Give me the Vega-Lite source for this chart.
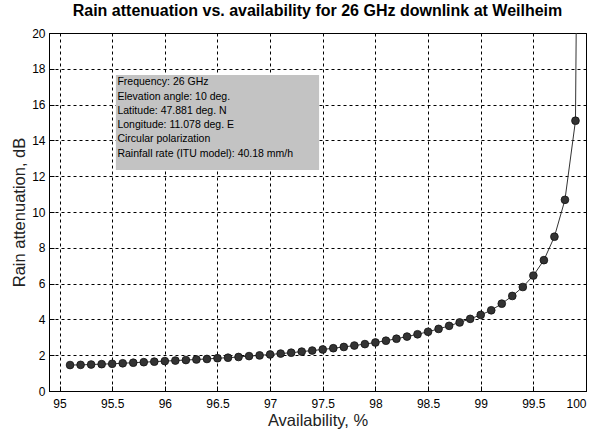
{
  "$schema": "https://vega.github.io/schema/vega-lite/v6.json",
  "width": 537,
  "height": 358,
  "autosize": {"type": "none"},
  "padding": {"left": 49, "top": 33, "right": 10, "bottom": 40},
  "background": "white",
  "title": {
    "text": "Rain attenuation vs. availability for 26 GHz downlink at Weilheim",
    "font": "Liberation Sans",
    "fontSize": 16,
    "fontWeight": "bold",
    "color": "black",
    "anchor": "middle",
    "offset": 8
  },
  "config": {
    "view": {"stroke": "black", "strokeWidth": 1},
    "font": "Liberation Sans",
    "axis": {
      "labelFont": "Liberation Sans",
      "titleFont": "Liberation Sans",
      "labelFontSize": 12,
      "titleFontSize": 16.5,
      "titleFontWeight": "normal",
      "labelColor": "black",
      "titleColor": "#222222",
      "domainColor": "black",
      "tickColor": "black",
      "tickSize": -5,
      "labelOverlap": false,
      "grid": true,
      "gridColor": "black",
      "gridOpacity": 1,
      "gridDash": [3, 3],
      "gridWidth": 1
    }
  },
  "datasets": {
    "curve": [
      {"x": 95.1, "y": 1.45},
      {"x": 95.2, "y": 1.46},
      {"x": 95.3, "y": 1.48},
      {"x": 95.4, "y": 1.5},
      {"x": 95.5, "y": 1.52},
      {"x": 95.6, "y": 1.55},
      {"x": 95.7, "y": 1.58},
      {"x": 95.8, "y": 1.61},
      {"x": 95.9, "y": 1.64},
      {"x": 96.0, "y": 1.67},
      {"x": 96.1, "y": 1.7},
      {"x": 96.2, "y": 1.73},
      {"x": 96.3, "y": 1.76},
      {"x": 96.4, "y": 1.79},
      {"x": 96.5, "y": 1.83},
      {"x": 96.6, "y": 1.86},
      {"x": 96.7, "y": 1.9},
      {"x": 96.8, "y": 1.95},
      {"x": 96.9, "y": 1.99},
      {"x": 97.0, "y": 2.04},
      {"x": 97.1, "y": 2.09},
      {"x": 97.2, "y": 2.14},
      {"x": 97.3, "y": 2.2},
      {"x": 97.4, "y": 2.26},
      {"x": 97.5, "y": 2.32},
      {"x": 97.6, "y": 2.39},
      {"x": 97.7, "y": 2.46},
      {"x": 97.8, "y": 2.54},
      {"x": 97.9, "y": 2.62},
      {"x": 98.0, "y": 2.71},
      {"x": 98.1, "y": 2.81},
      {"x": 98.2, "y": 2.92},
      {"x": 98.3, "y": 3.04},
      {"x": 98.4, "y": 3.17},
      {"x": 98.5, "y": 3.31},
      {"x": 98.6, "y": 3.47},
      {"x": 98.7, "y": 3.64},
      {"x": 98.8, "y": 3.83},
      {"x": 98.9, "y": 4.03},
      {"x": 99.0, "y": 4.25},
      {"x": 99.1, "y": 4.51},
      {"x": 99.2, "y": 4.88},
      {"x": 99.3, "y": 5.31},
      {"x": 99.4, "y": 5.81},
      {"x": 99.5, "y": 6.45},
      {"x": 99.6, "y": 7.31},
      {"x": 99.7, "y": 8.62},
      {"x": 99.8, "y": 10.68},
      {"x": 99.9, "y": 15.1},
      {"x": 99.99, "y": 80}
    ],
    "box": [{"x": 95.535, "x2": 97.465, "y": 12.35, "y2": 17.65}],
    "info": [
      {"x": 95.55, "y": 17.28, "label": "Frequency: 26 GHz"},
      {"x": 95.55, "y": 16.44, "label": "Elevation angle: 10 deg."},
      {"x": 95.55, "y": 15.66, "label": "Latitude: 47.881 deg. N"},
      {"x": 95.55, "y": 14.86, "label": "Longitude: 11.078 deg. E"},
      {"x": 95.55, "y": 14.08, "label": "Circular polarization"},
      {"x": 95.55, "y": 13.26, "label": "Rainfall rate (ITU model): 40.18 mm/h"}
    ]
  },
  "encoding": {
    "x": {
      "field": "x", "type": "quantitative",
      "scale": {"domain": [94.9, 100], "nice": false, "zero": false},
      "axis": {
        "title": "Availability, %",
        "values": [95, 95.5, 96, 96.5, 97, 97.5, 98, 98.5, 99, 99.5, 100],
        "format": "~g",
        "labelPadding": 12,
        "titlePadding": 3
      }
    },
    "y": {
      "field": "y", "type": "quantitative",
      "scale": {"domain": [0, 20], "nice": false},
      "axis": {
        "title": "Rain attenuation, dB",
        "values": [0, 2, 4, 6, 8, 10, 12, 14, 16, 18, 20],
        "labelPadding": 9,
        "titlePadding": 4
      }
    }
  },
  "layer": [
    {
      "data": {"name": "box"},
      "mark": {"type": "rect", "color": "#c3c3c3"},
      "encoding": {
        "x2": {"field": "x2"},
        "y2": {"field": "y2"}
      }
    },
    {
      "data": {"name": "info"},
      "mark": {"type": "text", "align": "left", "baseline": "middle", "fontSize": 10.5, "font": "Liberation Sans", "color": "black"},
      "encoding": {
        "text": {"field": "label"}
      }
    },
    {
      "data": {"name": "curve"},
      "mark": {"type": "line", "clip": true, "color": "#333333", "strokeWidth": 1,
        "point": {"filled": true, "size": 60, "color": "#333333", "stroke": "#111111", "strokeWidth": 0.8}},
      "encoding": {}
    }
  ]
}
